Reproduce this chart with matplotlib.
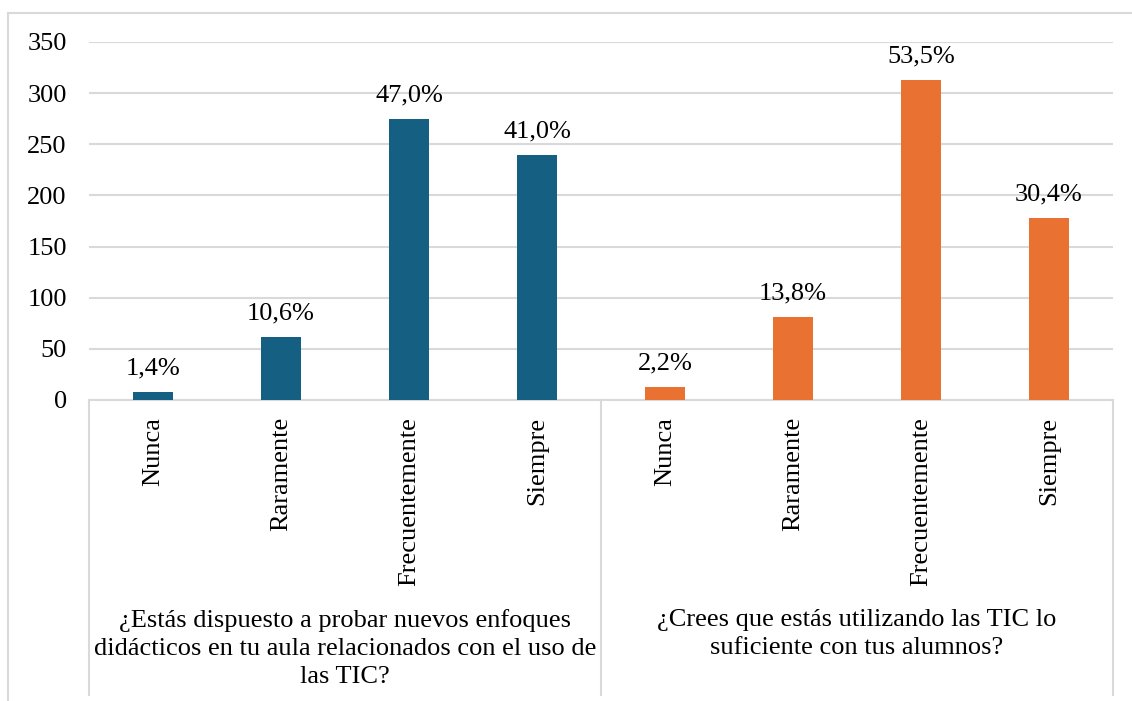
"""Bar chart: TIC survey answers, two questions side by side."""

import matplotlib.pyplot as plt
from matplotlib.lines import Line2D

plt.rcParams["font.family"] = ["Liberation Serif", "DejaVu Serif"]

CATEGORIES = ["Nunca", "Raramente", "Frecuentemente", "Siempre"]
QUESTIONS = [
    "¿Estás dispuesto a probar nuevos enfoques\ndidácticos en tu aula relacionados con el uso de\nlas TIC?",
    "¿Crees que estás utilizando las TIC lo\nsuficiente con tus alumnos?",
]
COUNTS_Q1 = [8, 62, 275, 240]
COUNTS_Q2 = [13, 81, 313, 178]
PCT_Q1 = ["1,4%", "10,6%", "47,0%", "41,0%"]
PCT_Q2 = ["2,2%", "13,8%", "53,5%", "30,4%"]
Y_TICKS = [0, 50, 100, 150, 200, 250, 300, 350]

BLUE = "#156082"
ORANGE = "#E97132"
GRID = "#D9D9D9"
FS = 19

W, H = 1132, 701
fig = plt.figure(figsize=(W / 100, H / 100), dpi=100)
ax = fig.add_axes([89 / W, (H - 400) / H, 1024 / W, 358 / H])

n = len(CATEGORIES)
x1 = list(range(n))
x2 = [n + i for i in range(n)]
ax.bar(x1, COUNTS_Q1, width=0.32, color=BLUE, zorder=3)
ax.bar(x2, COUNTS_Q2, width=0.32, color=ORANGE, zorder=3)

for xs, vals, labels in ((x1, COUNTS_Q1, PCT_Q1), (x2, COUNTS_Q2, PCT_Q2)):
    for x, v, lab in zip(xs, vals, labels):
        ax.annotate(lab, (x, v), xytext=(0, 9), textcoords="offset points",
                    ha="center", va="bottom", fontsize=FS)

ax.set_xlim(-0.5, 2 * n - 0.5)
ax.set_ylim(0, 350)
ax.set_yticks(Y_TICKS)
ax.set_yticklabels([str(t) for t in Y_TICKS], fontsize=FS)
ax.set_xticks(x1 + x2)
ax.set_xticklabels(CATEGORIES * 2, rotation=90, fontsize=FS, va="top", ha="center")
ax.tick_params(axis="x", length=0, pad=12)
ax.tick_params(axis="y", length=0, pad=16)
ax.grid(axis="y", color=GRID, linewidth=1.5, zorder=0)
for side in ("top", "right", "left"):
    ax.spines[side].set_visible(False)
ax.spines["bottom"].set_color(GRID)
ax.spines["bottom"].set_linewidth(1.5)

# separators and question labels below the axis
trans = ax.get_xaxis_transform()
for xv in (-0.5, n - 0.5, 2 * n - 0.5):
    ax.plot([xv, xv], [0, -295 / 358], color=GRID, linewidth=1.5,
            transform=trans, clip_on=False)
for i, q in enumerate(QUESTIONS):
    ax.text(i * n + (n - 1) / 2, -209 / 358, q, transform=trans, ha="center",
            va="top", fontsize=FS, linespacing=1.36)

# outer chart frame
fig.add_artist(Line2D([8 / W, 1], [1 - 13 / H, 1 - 13 / H], color=GRID, linewidth=1.5))
fig.add_artist(Line2D([8 / W, 8 / W], [0, 1 - 13 / H], color=GRID, linewidth=1.5))

fig.savefig("out.png", dpi=100)
